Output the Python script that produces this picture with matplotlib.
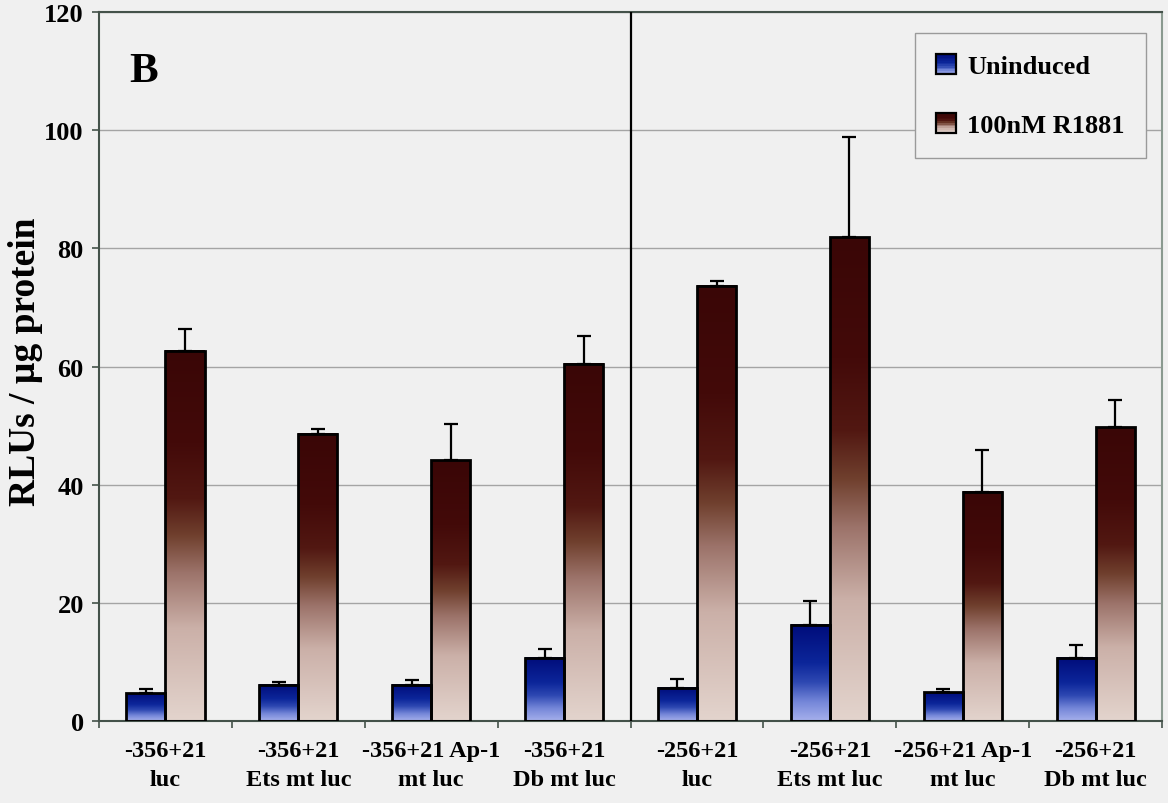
import numpy as np
import matplotlib
matplotlib.use("Agg")
import matplotlib.pyplot as plt
from matplotlib.colors import LinearSegmentedColormap
from matplotlib.legend_handler import HandlerBase
from matplotlib.patches import Patch, Rectangle

# Luciferase activity per construct
constructs = ["-356+21\nluc", "-356+21\nEts mt luc", "-356+21 Ap-1\nmt luc", "-356+21\nDb mt luc",
              "-256+21\nluc", "-256+21\nEts mt luc", "-256+21 Ap-1\nmt luc", "-256+21\nDb mt luc"]
uninduced = [4.7, 6.1, 6.1, 10.7, 5.6, 16.3, 4.9, 10.7]
uninduced_err = [0.7, 0.5, 0.8, 1.5, 1.5, 4.0, 0.5, 2.2]
r1881 = [62.7, 48.6, 44.1, 60.5, 73.7, 81.9, 38.8, 49.7]
r1881_err = [3.7, 0.9, 6.2, 4.6, 0.7, 16.9, 7.0, 4.7]
y_ticks = [0, 20, 40, 60, 80, 100, 120]

bg = "#f0f0f0"
spine_col = "#44524a"
plt.rcParams["font.family"] = ["Liberation Serif", "DejaVu Serif"]
plt.rcParams["font.weight"] = "bold"

# two-colour fills, bottom (0) to top (1)
blue_cmap = LinearSegmentedColormap.from_list("blue_fill", [
    (0.0, "#a6b0ec"), (0.2, "#7486d8"), (0.4, "#2e48b2"), (0.6, "#0c269a"), (1.0, "#000c7a")])
red_cmap = LinearSegmentedColormap.from_list("red_fill", [
    (0.0, "#e3d4cd"), (0.25, "#cbb0a8"), (0.4, "#9c736a"), (0.5, "#70402e"),
    (0.6, "#521812"), (0.75, "#430a09"), (1.0, "#3a0606")])


class GradientSquare(HandlerBase):
    """Legend key drawn as a small square with the bar gradient."""
    def __init__(self, cmap, n=12):
        super().__init__()
        self.cmap = cmap
        self.n = n

    def create_artists(self, legend, orig_handle, xdescent, ydescent, width, height, fontsize, trans):
        side = min(width, height)
        x0, y0 = -xdescent, -ydescent + (height - side) / 2
        arts = []
        for k in range(self.n):
            arts.append(Rectangle((x0, y0 + side * k / self.n), side, side / self.n + 0.3,
                                  facecolor=self.cmap((k + 0.5) / self.n), edgecolor="none",
                                  transform=trans))
        arts.append(Rectangle((x0, y0), side, side, facecolor="none", edgecolor="black",
                              lw=1.6, transform=trans))
        return arts


fig = plt.figure(figsize=(11.68, 8.04), dpi=100, facecolor=bg)
ax = fig.add_axes([0.0848, 0.102, 0.9101, 0.8818])
ax.set_facecolor(bg)

x = np.arange(len(constructs))
w = 0.294

# gradient fills under the bar outlines
for xi, u, r in zip(x, uninduced, r1881):
    grad = np.linspace(0, 1, 256).reshape(-1, 1)
    ax.imshow(grad, extent=(xi - w, xi, 0, u), cmap=blue_cmap, origin="lower",
              aspect="auto", zorder=2, interpolation="bilinear")
    ax.imshow(grad, extent=(xi, xi + w, 0, r), cmap=red_cmap, origin="lower",
              aspect="auto", zorder=2, interpolation="bilinear")

ax.bar(x - w / 2, uninduced, w, fill=False, edgecolor="black", lw=2, zorder=3)
ax.bar(x + w / 2, r1881, w, fill=False, edgecolor="black", lw=2, zorder=3)

ax.errorbar(x - w / 2, uninduced, yerr=[np.zeros(len(x)), uninduced_err], fmt="none",
            ecolor="black", elinewidth=1.6, capsize=5, capthick=1.6, zorder=4)
ax.errorbar(x + w / 2, r1881, yerr=[np.zeros(len(x)), r1881_err], fmt="none",
            ecolor="black", elinewidth=1.6, capsize=5, capthick=1.6, zorder=4)

# divider between the -356 and -256 promoter sets
ax.axvline(3.5, color="black", lw=1.6, zorder=4)

ax.set_xlim(-0.5, len(x) - 0.5)
ax.set_ylim(0, 120)
ax.set_yticks(y_ticks)
ax.set_yticklabels([str(t) for t in y_ticks], fontsize=19, fontweight="bold")
ax.yaxis.grid(True, color="#a4a4a4", lw=1)
ax.set_axisbelow(True)
ax.tick_params(axis="y", length=5, width=1.2, color=spine_col, pad=6)

ax.set_xticks(x)
ax.set_xticklabels(constructs, fontsize=17.5, fontweight="bold", linespacing=1.5)
ax.set_xticks(np.arange(-0.5, len(x), 1.0), minor=True)
ax.tick_params(axis="x", which="major", length=0, pad=14)
ax.tick_params(axis="x", which="minor", length=5, width=1.2, color=spine_col)

for side in ["left", "top", "bottom", "right"]:
    ax.spines[side].set_color(spine_col)
    ax.spines[side].set_linewidth(1.5)
ax.spines["right"].set_color("#8a9a90")

ax.set_ylabel("RLUs / \u00b5g protein", fontsize=27, fontweight="bold")
ax.yaxis.set_label_coords(-0.053, 0.508)
ax.text(0.042, 0.9025, "B", transform=ax.transAxes, fontsize=31, fontweight="bold",
        ha="center", va="baseline")

h1, h2 = Patch(), Patch()
leg = ax.legend([h1, h2], ["Uninduced", "100nM R1881"],
                handler_map={h1: GradientSquare(blue_cmap), h2: GradientSquare(red_cmap)},
                loc="upper right", bbox_to_anchor=(0.985, 0.9703),
                prop={"weight": "bold", "size": 19}, frameon=True, fancybox=False,
                facecolor=bg, edgecolor="#9a9a9a", framealpha=1,
                handlelength=0.8, handleheight=0.8, handletextpad=0.4,
                labelspacing=1.3, borderpad=0.8, borderaxespad=0)
leg.get_frame().set_linewidth(1)
leg.set_zorder(5)

fig.savefig("out.png", dpi=100, facecolor=bg)
